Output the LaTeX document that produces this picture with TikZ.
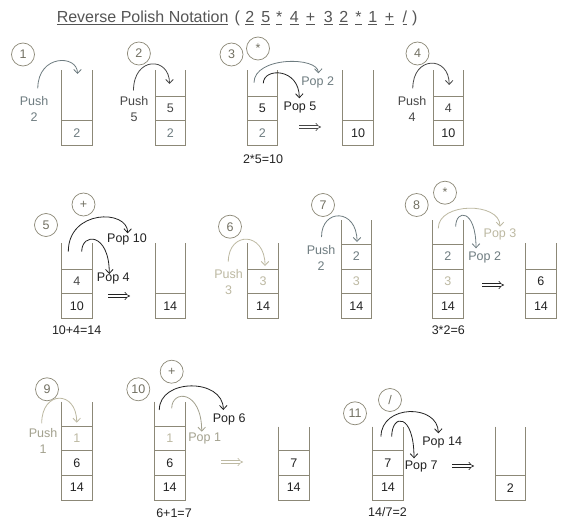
\documentclass[tikz,border=0pt]{standalone}
\usepackage{fontspec}
\setmainfont{Liberation Sans}
\usetikzlibrary{arrows.meta}
\definecolor{cdark}{HTML}{222222}
\definecolor{cmid}{HTML}{474747}
\definecolor{cgray}{HTML}{6E7C80}
\definecolor{clight}{HTML}{BDB9A2}
\definecolor{cpale}{HTML}{A3A18E}
\definecolor{cwall}{HTML}{8C8877}
\definecolor{ccirc}{HTML}{727062}
\definecolor{ctitle}{HTML}{555555}
\newcommand\mkstack[4]{%
  \node[stackbody,minimum height={(#4-#3)*1pt},anchor=north west] (#1) at (#2,-#3) {};
  \draw[wall] (#1.north west) -- (#1.south west) -- (#1.south east) -- (#1.north east);}
\newcommand\mkcell[4]{%
  \node[cell,text=#3,anchor=south] (#1) at (#2) {#4};
  \draw[wall] (#1.north west) -- (#1.north east);}
\newcommand\mkarc[4]{%
  \coordinate (ctl) at (0,-#4);
  \draw[arr,draw=#1] (#2) .. controls (#2 |- ctl) and (#3 |- ctl) .. (#3);}
\begin{document}
\begin{tikzpicture}[x=1pt,y=1pt,
  wall/.style={draw=cwall,line width=0.8pt},
  stackbody/.style={minimum width=30.5pt,inner sep=0pt,outer sep=0pt},
  cell/.style={minimum width=30.5pt,minimum height=24.7pt,inner sep=0pt,outer sep=0pt,font=\fontsize{12.5}{14}\selectfont},
  circ/.style={circle,draw=cwall,line width=0.7pt,minimum size=23pt,inner sep=0pt,text=ccirc,font=\fontsize{12.5}{14}\selectfont},
  lbl/.style={inner sep=0pt,align=center,font=\fontsize{12.5}{16}\selectfont},
  ttl/.style={inner sep=0pt,text=ctitle,font=\fontsize{16}{18}\selectfont},
  arr/.style={line width=0.8pt,-{Straight Barb[length=4pt,width=7.5pt]}},
  dblarr/.style={line width=0.6pt,double=white,double distance=2.2pt,-{Implies}}]
\useasboundingbox[fill=white] (0,0) rectangle (566,-527);

% ---- title ----
\node[ttl,anchor=base west] (title) at (56.6,-23) {\underline{Reverse Polish Notation}};
\node[ttl,anchor=base] (tkl) at (237.2,-23) {(};
\node[ttl,anchor=base] (tk1) at (249.8,-23) {\underline{2}};
\node[ttl,anchor=base] (tk2) at (265.8,-23) {\underline{5}};
\node[ttl,anchor=base] (tk3) at (279.3,-23) {\underline{*}};
\node[ttl,anchor=base] (tk4) at (294.4,-23) {\underline{4}};
\node[ttl,anchor=base] (tk5) at (310.6,-23) {\underline{+}};
\node[ttl,anchor=base] (tk6) at (328.4,-23) {\underline{3}};
\node[ttl,anchor=base] (tk7) at (343.8,-23) {\underline{2}};
\node[ttl,anchor=base] (tk8) at (358.4,-23) {\underline{*}};
\node[ttl,anchor=base] (tk9) at (372.9,-23) {\underline{1}};
\node[ttl,anchor=base] (tk10) at (389.5,-23) {\underline{+}};
\node[ttl,anchor=base] (tk11) at (404.8,-23) {\underline{/}};
\node[ttl,anchor=base] (tkr) at (414.9,-23) {)};

% ---- circles ----
\node[circ] (c1) at (23,-54.5) {1};
\node[circ] (c2) at (138.9,-53.5) {2};
\node[circ] (c3) at (231.5,-54.5) {3};
\node[circ] (cs3) at (258,-48.5) {*};
\node[circ] (c4) at (417.5,-53.5) {4};
\node[circ] (cp5) at (83.5,-204.5) {+};
\node[circ] (c5) at (46,-225) {5};
\node[circ] (c6) at (230,-226.7) {6};
\node[circ] (c7) at (323,-205) {7};
\node[circ] (c8) at (416.7,-205) {8};
\node[circ] (cs8) at (445,-192.7) {*};
\node[circ] (c9) at (47,-389.3) {9};
\node[circ] (cp10) at (171.7,-371.7) {+};
\node[circ] (c10) at (138.3,-389.3) {10};
\node[circ] (cd11) at (390,-400) {/};
\node[circ] (c11) at (355,-413.3) {11};

% ---- row 1 stacks ----
\mkstack{s1}{61.7}{70.5}{145.5}
\mkcell{s1a}{s1.south}{cgray}{2}
\mkstack{s2}{155.1}{70.5}{145.5}
\mkcell{s2a}{s2.south}{cgray}{2}
\mkcell{s2b}{s2a.north}{cmid}{5}
\mkstack{s3}{247.1}{70.5}{145.5}
\mkcell{s3a}{s3.south}{cgray}{2}
\mkcell{s3b}{s3a.north}{cdark}{5}
\mkstack{r3}{342.8}{70.5}{145.5}
\mkcell{r3a}{r3.south}{cdark}{10}
\mkstack{s4}{433}{70.5}{145.5}
\mkcell{s4a}{s4.south}{cdark}{10}
\mkcell{s4b}{s4a.north}{cmid}{4}

% ---- row 2 stacks ----
\mkstack{s5}{61.7}{243.3}{318.3}
\mkcell{s5a}{s5.south}{cdark}{10}
\mkcell{s5b}{s5a.north}{cmid}{4}
\mkstack{r5}{155}{243.3}{318.3}
\mkcell{r5a}{r5.south}{cdark}{14}
\mkstack{s6}{247.8}{243.3}{318.3}
\mkcell{s6a}{s6.south}{cdark}{14}
\mkcell{s6b}{s6a.north}{clight}{3}
\mkstack{s7}{341}{220}{318.3}
\mkcell{s7a}{s7.south}{cdark}{14}
\mkcell{s7b}{s7a.north}{clight}{3}
\mkcell{s7c}{s7b.north}{cgray}{2}
\mkstack{s8}{432.7}{220}{318.3}
\mkcell{s8a}{s8.south}{cdark}{14}
\mkcell{s8b}{s8a.north}{clight}{3}
\mkcell{s8c}{s8b.north}{cgray}{2}
\mkstack{r8}{525.7}{243.3}{318.3}
\mkcell{r8a}{r8.south}{cdark}{14}
\mkcell{r8b}{r8a.north}{cdark}{6}

% ---- row 3 stacks ----
\mkstack{s9}{61.7}{401.7}{500}
\mkcell{s9a}{s9.south}{cdark}{14}
\mkcell{s9b}{s9a.north}{cdark}{6}
\mkcell{s9c}{s9b.north}{clight}{1}
\mkstack{s10}{154.5}{401.7}{500}
\mkcell{s10a}{s10.south}{cdark}{14}
\mkcell{s10b}{s10a.north}{cdark}{6}
\mkcell{s10c}{s10b.north}{clight}{1}
\mkstack{r10}{278.5}{426.7}{500}
\mkcell{r10a}{r10.south}{cdark}{14}
\mkcell{r10b}{r10a.north}{cdark}{7}
\mkstack{s11}{372.7}{426.7}{500}
\mkcell{s11a}{s11.south}{cdark}{14}
\mkcell{s11b}{s11a.north}{cdark}{7}
\mkstack{r11}{495}{426.7}{500}
\mkcell{r11a}{r11.south}{cdark}{2}

% ---- labels ----
\node[lbl,text=cgray] (push1) at (34,-108.7) {Push\\2};
\node[lbl,text=cmid] (push2) at (134,-108.7) {Push\\5};
\node[lbl,text=cgray] (pop2a) at (317.7,-82.7) {Pop 2};
\node[lbl,text=cdark] (pop5) at (300,-107.5) {Pop 5};
\node[lbl,text=cdark] (eq3) at (263,-159) {2*5=10};
\node[lbl,text=cmid] (push4) at (412,-108.7) {Push\\4};

\node[lbl,text=cdark] (pop10) at (127,-239.3) {Pop 10};
\node[lbl,text=cdark] (pop4) at (113.3,-278.5) {Pop 4};
\node[lbl,text=cdark] (eq5) at (76.7,-330) {10+4=14};
\node[lbl,text=clight] (push3) at (228.5,-282) {Push\\3};
\node[lbl,text=cgray] (push2b) at (321,-258) {Push\\2};
\node[lbl,text=clight] (pop3) at (500,-234) {Pop 3};
\node[lbl,text=cgray] (pop2b) at (484.7,-257.3) {Pop 2};
\node[lbl,text=cdark] (eq8) at (448.3,-330) {3*2=6};

\node[lbl,text=cpale] (push1b) at (43,-440.5) {Push\\1};
\node[lbl,text=cdark] (pop6) at (229.2,-419.3) {Pop 6};
\node[lbl,text=cpale] (pop1) at (204.7,-438) {Pop 1};
\node[lbl,text=cdark] (eq10) at (174,-512.7) {6+1=7};
\node[lbl,text=cdark] (pop14) at (442.2,-442.2) {Pop 14};
\node[lbl,text=cdark] (pop7) at (421.2,-466) {Pop 7};
\node[lbl,text=cdark] (eq11) at (387.5,-511.7) {14/7=2};

% ---- double arrows ----
\coordinate (i3s) at (299,-127);  \coordinate (i3t) at (321,-127);
\coordinate (i5s) at (108,-296);  \coordinate (i5t) at (130,-296);
\coordinate (i8s) at (482,-285);  \coordinate (i8t) at (504,-285);
\coordinate (i10s) at (221,-462); \coordinate (i10t) at (243,-462);
\coordinate (i11s) at (452,-466); \coordinate (i11t) at (474,-466);
\draw[dblarr,draw=cmid] (i3s) -- (i3t);
\draw[dblarr,draw=cdark] (i5s) -- (i5t);
\draw[dblarr,draw=cdark] (i8s) -- (i8t);
\draw[dblarr,draw=clight] (i10s) -- (i10t);
\draw[dblarr,draw=cdark] (i11s) -- (i11t);

% ---- arrow end points ----
\coordinate (a1s) at (37.8,-88.3);   \coordinate (a1t) at (77.5,-74);
\coordinate (a2s) at (133.5,-90.5);  \coordinate (a2t) at (169.5,-84);
\coordinate (a3s) at (254,-82.7);    \coordinate (a3t) at (318.3,-73.3);
\coordinate (a3u) at (263.3,-83.3);  \coordinate (a3v) at (299.3,-98.3);
\coordinate (a4s) at (412.8,-88.3);  \coordinate (a4t) at (449.2,-85);
\coordinate (a5s) at (68.3,-251.7);  \coordinate (a5t) at (127.7,-233.3);
\coordinate (a5u) at (81.7,-251.7);  \coordinate (a5v) at (109.3,-274);
\coordinate (a6s) at (228.3,-261.7); \coordinate (a6t) at (265,-266);
\coordinate (a7s) at (321.5,-237);   \coordinate (a7t) at (357,-242);
\coordinate (a8s) at (438.3,-228.3); \coordinate (a8t) at (500,-226.7);
\coordinate (a8u) at (455.7,-226.7); \coordinate (a8v) at (476,-248.3);
\coordinate (a9s) at (41.7,-423.3);  \coordinate (a9t) at (76.7,-422.7);
\coordinate (a10s) at (159.3,-410);  \coordinate (a10t) at (223.3,-410);
\coordinate (a10u) at (171.7,-408.3);\coordinate (a10v) at (201.7,-431.7);
\coordinate (a11s) at (381,-436.7);  \coordinate (a11t) at (438.3,-433.3);
\coordinate (a11u) at (391.7,-436.7);\coordinate (a11v) at (414,-458.3);

% ---- arrows ----
\mkarc{cgray}{a1s}{a1t}{54.3}
\mkarc{cmid}{a2s}{a2t}{56.3}
\mkarc{cgray}{a3s}{a3t}{56.3}
\mkarc{cdark}{a3u}{a3v}{67.5}
\mkarc{cmid}{a4s}{a4t}{55.5}
\mkarc{cdark}{a5s}{a5t}{209.2}
\mkarc{cdark}{a5u}{a5v}{232.3}
\mkarc{clight}{a6s}{a6t}{231.1}
\mkarc{cgray}{a7s}{a7t}{208.1}
\mkarc{clight}{a8s}{a8t}{201.9}
\mkarc{cgray}{a8u}{a8v}{208.8}
\mkarc{clight}{a9s}{a9t}{390.1}
\mkarc{cdark}{a10s}{a10t}{378}
\mkarc{cpale}{a10u}{a10v}{389.6}
\mkarc{cdark}{a11s}{a11t}{403.9}
\mkarc{cdark}{a11u}{a11v}{413.1}
\end{tikzpicture}
\end{document}
